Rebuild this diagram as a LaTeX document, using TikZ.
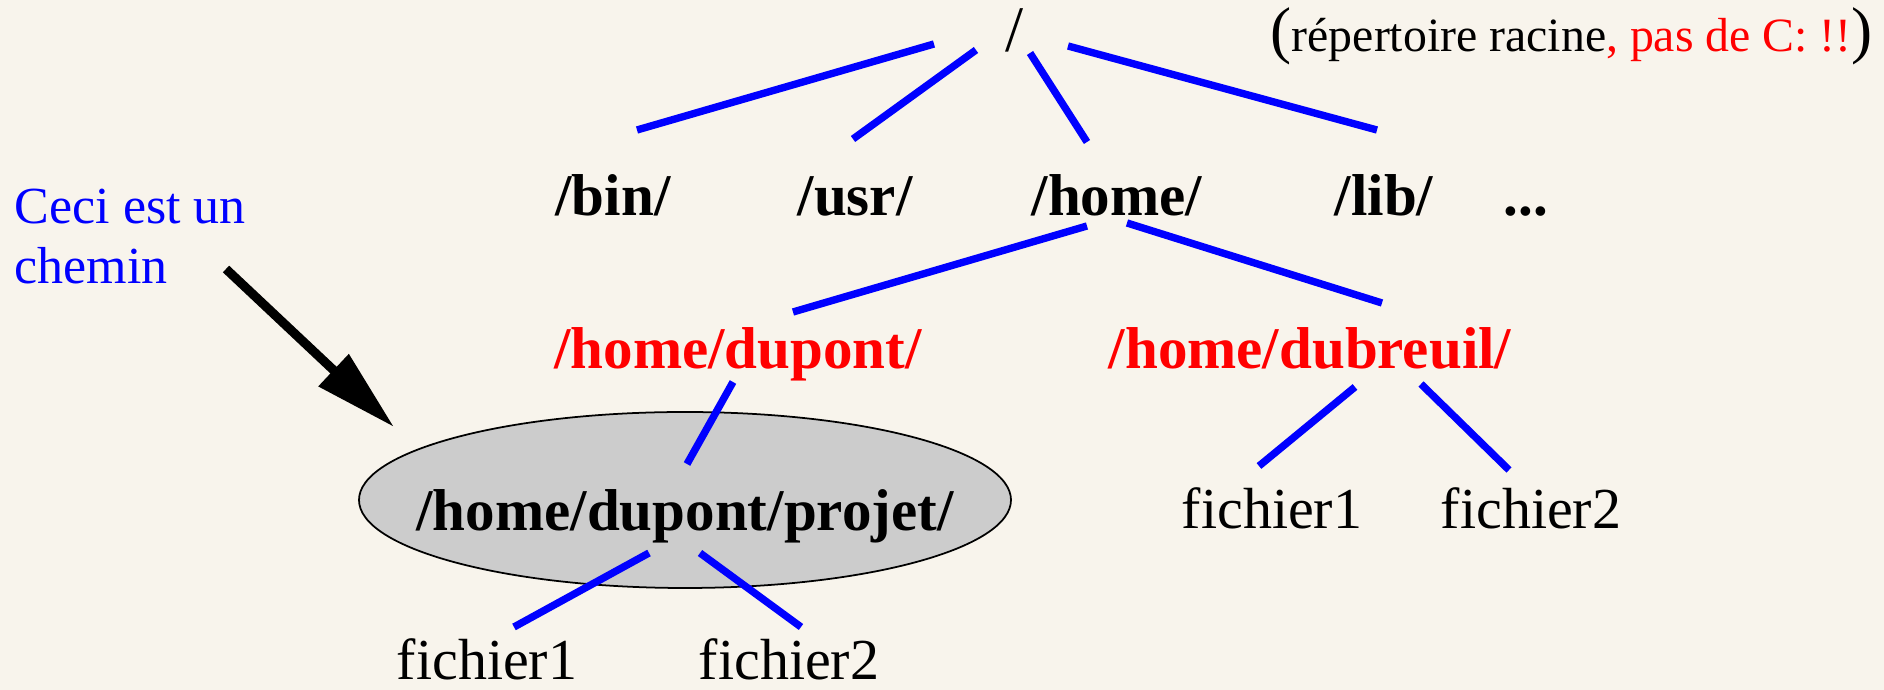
\documentclass[tikz,border=0pt]{standalone}
\usepackage{fontspec}
\setmainfont{Liberation Serif}
\usetikzlibrary{positioning,arrows.meta,shapes.geometric}
\definecolor{paper}{RGB}{248,244,236}
\definecolor{greyfill}{RGB}{204,204,204}

\tikzset{
  dir/.style={font=\fontsize{16.8}{20}\selectfont\bfseries, inner sep=0pt, anchor=base},
  homedir/.style={dir, text=red},
  file/.style={font=\fontsize{16.5}{20}\selectfont, inner sep=0pt, anchor=base},
  note/.style={font=\fontsize{13.6}{16}\selectfont, inner sep=0pt},
  link/.style={blue, line width=2.1pt},
  pointer/.style={-{Triangle[length=0.83cm,width=0.42cm]}, line width=2.6pt},
  folder/.style={ellipse, draw, fill=greyfill, line width=0.5pt,
    minimum width=6.52cm, minimum height=1.76cm, inner sep=0pt}
}

\begin{document}
\begin{tikzpicture}
  \fill[paper] (0,0) rectangle (18.84,6.90);
  \useasboundingbox (0,0) rectangle (18.84,6.90);
  % Define nodes
  \node[file, font=\fontsize{18.5}{20}\selectfont] (root) at (10.15,6.38) {/};
  \node[note, right=2.55cm of root.base, anchor=base west] (racine)
    {{\fontsize{18}{20}\selectfont(}répertoire racine\textcolor{red}{, pas de C: !!}{\fontsize{18}{20}\selectfont)}};
  \node[dir, below=1.64cm of root.base, xshift=-4.02cm, anchor=base] (bin) {/bin/};
  \node[dir, below=1.64cm of root.base, xshift=-1.60cm, anchor=base] (usr) {/usr/};
  \node[dir, below=1.64cm of root.base, xshift=1.02cm, anchor=base] (home) {/home/};
  \node[dir, below=1.64cm of root.base, xshift=3.69cm, anchor=base] (lib) {/lib/};
  \node[dir, below=1.64cm of root.base, xshift=5.11cm, anchor=base] (more) {...};
  \node[homedir, below=1.53cm of home.base, xshift=-3.79cm, anchor=base] (dupont) {/home/dupont/};
  \node[homedir, below=1.53cm of home.base, xshift=1.93cm, anchor=base] (dubreuil) {/home/dubreuil/};
  \node[folder, below=1.31cm of dupont.base, xshift=-0.53cm, anchor=center] (projet) {};
  \node[dir, anchor=base] (projetname) at ([yshift=-0.31cm]projet.center) {/home/dupont/projet/};
  \node[file, below=1.60cm of dubreuil.base, xshift=-0.38cm, anchor=base] (dubfileA) {fichier1};
  \node[file, below=1.60cm of dubreuil.base, xshift=2.21cm, anchor=base] (dubfileB) {fichier2};
  \node[file, below=1.80cm of projet.center, xshift=-1.98cm, anchor=base] (projfileA) {fichier1};
  \node[file, below=1.80cm of projet.center, xshift=1.04cm, anchor=base] (projfileB) {fichier2};
  \node[font=\fontsize{14.8}{17.2}\selectfont, text=blue, align=left, inner sep=0pt,
    anchor=north west] (ceci) at (0.14,5.02) {Ceci est un\\chemin};
  % Define edges
  \draw[link] ([shift={(-0.81,0.08)}]root.base) -- ([shift={(0.24,0.86)}]bin.base);
  \draw[link] ([shift={(-0.39,0.02)}]root.base) -- ([shift={(-0.02,0.77)}]usr.base);
  \draw[link] ([shift={(0.15,-0.01)}]root.base) -- ([shift={(-0.30,0.74)}]home.base);
  \draw[link] ([shift={(0.53,0.06)}]root.base) -- ([shift={(-0.07,0.86)}]lib.base);
  \draw[link] ([shift={(-0.30,-0.10)}]home.base) -- ([shift={(0.55,0.57)}]dupont.base);
  \draw[link] ([shift={(0.10,-0.07)}]home.base) -- ([shift={(0.72,0.66)}]dubreuil.base);
  \draw[link] ([shift={(-0.05,-0.13)}]dupont.base) -- ([shift={(0.02,0.36)}]projet.center);
  \draw[link] ([shift={(0.45,-0.18)}]dubreuil.base) -- ([shift={(-0.13,0.63)}]dubfileA.base);
  \draw[link] ([shift={(1.11,-0.15)}]dubreuil.base) -- ([shift={(-0.22,0.59)}]dubfileB.base);
  \draw[link] ([shift={(-0.36,-0.53)}]projet.center) -- ([shift={(0.27,0.53)}]projfileA.base);
  \draw[link] ([shift={(0.15,-0.53)}]projet.center) -- ([shift={(0.12,0.53)}]projfileB.base);
  \draw[pointer] ([shift={(2.12,-0.81)}]ceci.north west) -- ([shift={(-2.91,0.73)}]projet.center);
\end{tikzpicture}
\end{document}
